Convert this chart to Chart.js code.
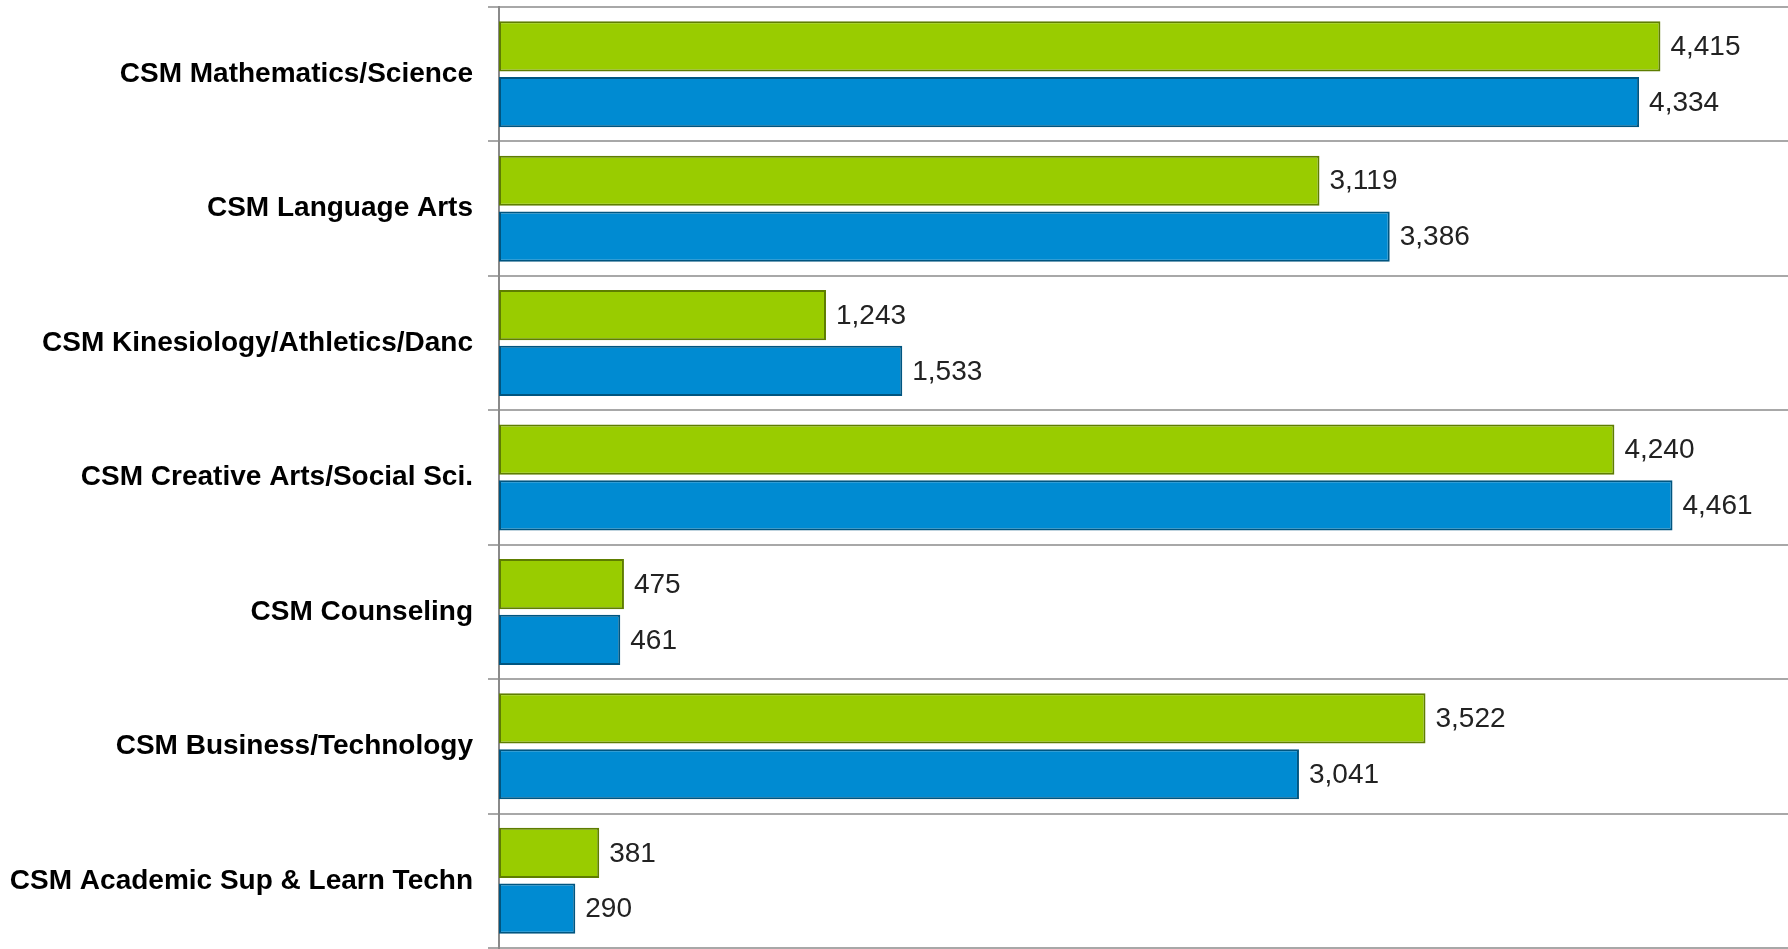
<!DOCTYPE html>
<html>
<head>
<meta charset="utf-8">
<script src="https://cdn.jsdelivr.net/npm/chart.js@4/dist/chart.umd.min.js"></script>
<style>
  html, body { margin: 0; padding: 0; background: #fff; }
  #wrap { width: 1788px; height: 949px; }
</style>
</head>
<body>
<div id="wrap"><canvas id="chart"></canvas></div>
<script>
const categories = [
  'CSM Mathematics/Science',
  'CSM Language Arts',
  'CSM Kinesiology/Athletics/Danc',
  'CSM Creative Arts/Social Sci.',
  'CSM Counseling',
  'CSM Business/Technology',
  'CSM Academic Sup & Learn Techn'
];
const greenValues = [4415, 3119, 1243, 4240, 475, 3522, 381];
const blueValues = [4334, 3386, 1533, 4461, 461, 3041, 290];
const xMax = 4900;

// draws the number at the end of each bar
const valueLabels = {
  id: 'valueLabels',
  afterDatasetsDraw(chart) {
    const ctx = chart.ctx;
    ctx.save();
    ctx.font = '28px "Liberation Sans", Arial, sans-serif';
    ctx.fillStyle = '#222';
    ctx.textAlign = 'left';
    ctx.textBaseline = 'middle';
    chart.data.datasets.forEach((ds, i) => {
      chart.getDatasetMeta(i).data.forEach((bar, j) => {
        ctx.fillText(ds.data[j].toLocaleString('en-US'), bar.x + 10, bar.y + 1);
      });
    });
    ctx.restore();
  }
};

new Chart(document.getElementById('chart'), {
  type: 'bar',
  data: {
    labels: categories,
    datasets: [
      {
        data: greenValues,
        backgroundColor: '#99cc00',
        borderColor: '#5e7d00',
        borderWidth: 2,
        borderSkipped: false
      },
      {
        data: blueValues,
        backgroundColor: '#008bd2',
        borderColor: '#005580',
        borderWidth: 2,
        borderSkipped: false
      }
    ]
  },
  options: {
    indexAxis: 'y',
    responsive: true,
    maintainAspectRatio: false,
    animation: false,
    categoryPercentage: 0.83,
    barPercentage: 0.9,
    layout: { padding: { top: 7, bottom: 1, right: 0, left: 0 } },
    scales: {
      x: {
        display: false,
        min: 0,
        max: xMax
      },
      y: {
        afterFit: (axis) => {
          axis.width = 499;
          axis.paddingTop = 0;
          axis.paddingBottom = 0;
        },
        grid: {
          offset: true,
          color: '#a8a8a8',
          lineWidth: 2,
          tickLength: 11,
          drawOnChartArea: true
        },
        border: { display: true, color: '#8a8a8a', width: 2 },
        ticks: {
          color: '#000',
          padding: 15,
          font: { family: '"Liberation Sans", Arial, sans-serif', size: 28, weight: 'bold' }
        }
      }
    },
    plugins: {
      legend: { display: false },
      title: { display: false },
      tooltip: { enabled: false }
    }
  },
  plugins: [valueLabels]
});
</script>
</body>
</html>
